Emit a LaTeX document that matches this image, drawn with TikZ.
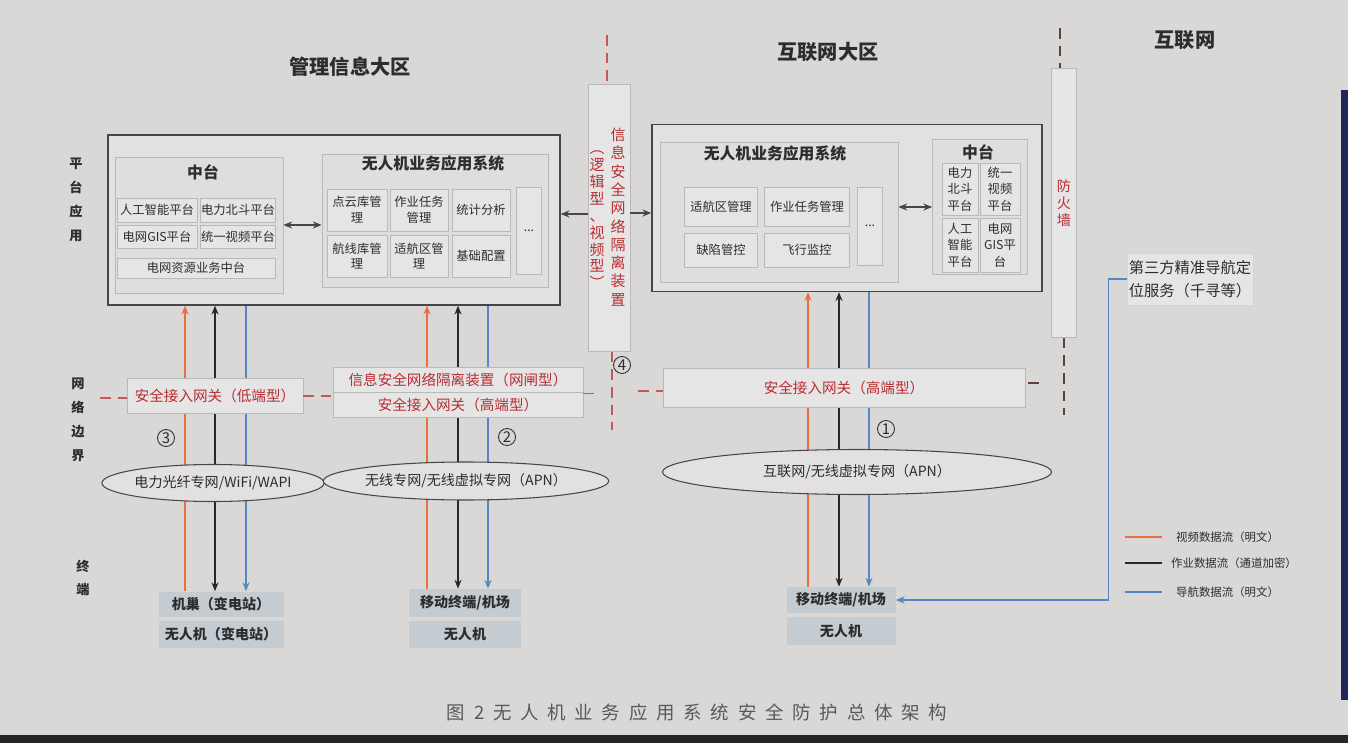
\documentclass[tikz,border=0pt]{standalone}
\usepackage{fontspec}
\setmainfont{Noto Sans CJK SC}
\usetikzlibrary{shapes.geometric,arrows.meta}

\begin{document}
\begin{tikzpicture}[x=0.02cm, y=-0.02cm, >={Stealth[length=5pt,width=4pt]},
    bigbox/.style 2 args={draw=frame, fill=bigfill, line width=0.8pt, minimum width=#1*\px, minimum height=#2*\px, inner sep=0pt},
    panel/.style 2 args={draw=boxgray, fill=panelfill, line width=0.4pt, minimum width=#1*\px, minimum height=#2*\px, inner sep=0pt},
    item/.style 2 args={draw=boxgray, fill=itemfill, line width=0.4pt, minimum width=#1*\px, minimum height=#2*\px, inner sep=0pt, align=center, text=txt, font=\fontsize{7}{9}\selectfont},
    title/.style={text=txt, font=\fontsize{9}{10}\selectfont\bfseries},
    head/.style={text=txt, font=\fontsize{11.5}{12}\selectfont\bfseries},
    side/.style={align=center, text=txt, font=\fontsize{7.5}{13.6}\selectfont\bfseries},
    gw/.style 2 args={draw=boxgray, fill=itemfill, line width=0.4pt, minimum width=#1*\px, minimum height=#2*\px, inner sep=0pt, text=redtxt, font=\fontsize{8.3}{9}\selectfont},
    net/.style 2 args={ellipse, draw=frame, fill=netfill, line width=0.6pt, minimum width=#1*\px, minimum height=#2*\px, inner sep=0pt, text=txt, font=\fontsize{8}{9}\selectfont},
    term/.style 2 args={fill=termfill, minimum width=#1*\px, minimum height=#2*\px, inner sep=0pt, text=txt, font=\fontsize{8}{9}\selectfont\bfseries},
    num/.style={circle, draw=txt, line width=0.5pt, minimum size=17*\px, inner sep=0pt, text=txt, font=\fontsize{8.5}{9}\selectfont},
    oflow/.style={draw=orangeline, line width=0.9pt},
    kflow/.style={draw=blackline, line width=0.9pt},
    bflow/.style={draw=blueline, line width=0.9pt},
    sepred/.style={draw=redtxt!80, line width=0.8pt, dashed, dash pattern=on 6pt off 4pt},
    sepgray/.style={draw=frame!80!redtxt, line width=0.8pt, dash pattern=on 6pt off 4pt},
    legtxt/.style={text=txt, font=\fontsize{6.5}{7}\selectfont}]
    \def\px{0.02cm}
    \definecolor{bgcol}{RGB}{218,215,215}
    \definecolor{bigfill}{RGB}{226,225,225}
    \definecolor{panelfill}{RGB}{223,222,222}
    \definecolor{itemfill}{RGB}{230,229,229}
    \definecolor{netfill}{RGB}{226,224,224}
    \definecolor{termfill}{RGB}{196,204,209}
    \definecolor{boxgray}{RGB}{185,185,185}
    \definecolor{frame}{RGB}{70,70,70}
    \definecolor{txt}{RGB}{45,45,45}
    \definecolor{redtxt}{RGB}{185,45,50}
    \definecolor{orangeline}{RGB}{232,112,60}
    \definecolor{blackline}{RGB}{40,40,40}
    \definecolor{blueline}{RGB}{85,135,195}
    \definecolor{navy}{RGB}{30,38,90}

    % background of the photo
    \useasboundingbox (0,0) rectangle (1348,743);
    \fill[bgcol] (0,0) rectangle (1348,743);
    \fill[navy] (1341,90) rectangle (1348,700);
    \fill[black!85] (0,735) rectangle (1348,743);

    % zone headings
    \node[head] (mgmt) at (350,67) {管理信息大区};
    \node[head] (inetzone) at (828,52) {互联网大区};
    \node[head] (inet) at (1185,40) {互联网};

    % layer labels on the left
    \node[side] (lplat) at (76,200) {平\\台\\应\\用};
    \node[side] (lbound) at (78,420) {网\\络\\边\\界};
    \node[side] (lterm) at (83,578) {终\\端};

    % left platform box
    \node[bigbox={452}{170}] (lbig) at (334,220) {};
    \node[panel={168}{136}] (lmid) at (199,225) {};
    \node[title] (lmidt) at (203,172) {中台};
    \node[item={80}{24}] (lm1) at (157,210) {人工智能平台};
    \node[item={75}{24}] (lm2) at (238,210) {电力北斗平台};
    \node[item={80}{23}] (lm3) at (157,237) {电网GIS平台};
    \node[item={75}{23}] (lm4) at (238,237) {统一视频平台};
    \node[item={158}{20}] (lm5) at (196,268) {电网资源业务中台};
    \node[panel={226}{133}] (lapp) at (435,221) {};
    \node[title] (lappt) at (433,163) {无人机业务应用系统};
    \node[item={60}{42}] (la1) at (357,210) {点云库管\\理};
    \node[item={58}{42}] (la2) at (419,210) {作业任务\\管理};
    \node[item={58}{42}] (la3) at (481,210) {统计分析};
    \node[item={60}{42}] (la4) at (357,256) {航线库管\\理};
    \node[item={58}{42}] (la5) at (419,256) {适航区管\\理};
    \node[item={58}{42}] (la6) at (481,256) {基础配置};
    \node[item={25}{87}] (la7) at (529,231) {...};
    \draw[<->, line width=1pt, frame] (lmid.east) -- (lmid.east -| lapp.west);

    % right platform box
    \node[bigbox={390}{167}] (rbig) at (847,208) {};
    \node[panel={238}{140}] (rapp) at (779,212) {};
    \node[title] (rappt) at (775,153) {无人机业务应用系统};
    \node[item={73}{39}] (ra1) at (721,207) {适航区管理};
    \node[item={85}{39}] (ra2) at (807,207) {作业任务管理};
    \node[item={73}{34}] (ra3) at (721,250) {缺陷管控};
    \node[item={85}{34}] (ra4) at (807,250) {飞行监控};
    \node[item={25}{78}] (ra5) at (870,226) {...};
    \node[panel={95}{135}] (rmid) at (980,207) {};
    \node[title] (rmidt) at (978,152) {中台};
    \node[item={36}{52}, font=\fontsize{7}{9.3}\selectfont] (rm1) at (960,189) {电力\\北斗\\平台};
    \node[item={40}{52}, font=\fontsize{7}{9.3}\selectfont] (rm2) at (1000,189) {统一\\视频\\平台};
    \node[item={36}{54}, font=\fontsize{7}{9.3}\selectfont] (rm3) at (960,245) {人工\\智能\\平台};
    \node[item={40}{54}, font=\fontsize{7}{9.3}\selectfont] (rm4) at (1000,245) {电网\\GIS平\\台};
    \draw[<->, line width=1pt, frame] (rapp.east |- 0,207) -- (rmid.west |- 0,207);

    % isolation device between the zones
    \node[item={42}{267}] (dev) at (609,218) {};
    \node[text=redtxt, align=center, font=\fontsize{8.5}{10.4}\selectfont] (devA) at (618,217) {信\\息\\安\\全\\网\\络\\隔\\离\\装\\置};
    \node[text=redtxt, align=center, font=\fontsize{8.5}{9.6}\selectfont] (devB) at (597,220) {︵\\逻\\辑\\型\\、\\视\\频\\型\\︶};
    \coordinate (devtop) at (607,35);
    \coordinate (devbot) at (612,430);
    \draw[sepred] (devtop) -- (devtop |- dev.north);
    \draw[sepred] (devbot |- dev.south) -- (devbot);
    \draw[->, line width=1pt, frame] (dev.west |- 0,214) -- (lbig.east |- 0,214);
    \draw[->, line width=1pt, frame] (dev.east |- 0,213) -- (rbig.west |- 0,213);
    \node[num] (n4) at (622,365) {4};

    % firewall
    \node[item={25}{269}, text=redtxt, font=\fontsize{8}{9.6}\selectfont] (fw) at (1064,203) {防\\火\\墙};
    \coordinate (fwtop) at (1060,28);
    \coordinate (fwbot) at (1064,415);
    \draw[sepgray] (fwtop) -- (fwtop |- fw.north);
    \draw[sepgray] (fwbot |- fw.south) -- (fwbot);

    % terminals
    \node[term={125}{25}] (lt1) at (221,604) {机巢（变电站）};
    \node[term={125}{27}] (lt2) at (221,634) {无人机（变电站）};
    \node[term={112}{28}] (mt1) at (465,603) {移动终端/机场};
    \node[term={112}{27}] (mt2) at (465,634) {无人机};
    \node[term={109}{26}] (rt1) at (841,600) {移动终端/机场};
    \node[term={109}{28}] (rt2) at (841,631) {无人机};

    % data flows
    \draw[oflow, ->] (lt1.north -| 185,0) -- (lbig.south -| 185,0);
    \draw[kflow, <->] (lt1.north -| 215,0) -- (lbig.south -| 215,0);
    \draw[bflow, <-] (lt1.north -| 246,0) -- (lbig.south -| 246,0);
    \draw[oflow, ->] (mt1.north -| 427,0) -- (lbig.south -| 427,0);
    \draw[kflow, <->] (mt1.north -| 458,0) -- (lbig.south -| 458,0);
    \draw[bflow, <-] (mt1.north -| 488,0) -- (lbig.south -| 488,0);
    \draw[oflow, ->] (rt1.north -| 808,0) -- (rbig.south -| 808,0);
    \draw[kflow, <->] (rt1.north -| 839,0) -- (rbig.south -| 839,0);
    \draw[bflow, <-] (rt1.north -| 869,0) -- (rbig.south -| 869,0);

    % network boundary gateways
    \node[gw={176}{35}] (lgw) at (215,396) {安全接入网关（低端型）};
    \node[gw={250}{26}] (mgw1) at (458,380) {信息安全网络隔离装置（网闸型）};
    \node[gw={250}{25}] (mgw2) at (458,405) {安全接入网关（高端型）};
    \node[gw={362}{39}] (rgw) at (844,388) {安全接入网关（高端型）};
    \coordinate (gl) at (100,398);
    \coordinate (gr) at (638,391);
    \draw[sepred] (gl) -- (gl -| lgw.west);
    \draw[sepred] (lgw.east) -- (lgw.east -| mgw1.west);
    \draw[sepred] (mgw1.south east) -- ++(12,0);
    \draw[sepred] (gr) -- (gr -| rgw.west);
    \draw[sepgray] (rgw.east) ++(3,-5) -- ++(12,0);

    % channel numbers
    \node[num] (n3) at (166,438) {3};
    \node[num] (n2) at (507,437) {2};
    \node[num] (n1) at (886,429) {1};

    % access networks
    \node[net={221}{37}] (lnet) at (213,483) {电力光纤专网/WiFi/WAPI};
    \node[net={248}{38}] (mnet) at (466,481) {无线专网/无线虚拟专网（APN）};
    \node[net={389}{45}] (rnet) at (857,472) {互联网/无线虚拟专网（APN）};

    % third party positioning service
    \node[draw=boxgray!60, fill=itemfill, minimum width=126*\px, minimum height=52*\px, inner sep=1pt, align=left, text=txt, font=\fontsize{8.7}{13}\selectfont] (tp) at (1190,279) {第三方精准导航定\\位服务（千寻等）};
    \draw[bflow, ->] (tp.west) -- ++(-18,0) |- (rt1.east);

    % legend
    \node[legtxt, anchor=west] (lg1) at (1170,537) {视频数据流（明文）};
    \node[legtxt, anchor=west] (lg2) at (1165,563) {作业数据流（通道加密）};
    \node[legtxt, anchor=west] (lg3) at (1170,592) {导航数据流（明文）};
    \draw[oflow] (lg1.west) ++(-45,0) -- ++(37,0);
    \draw[kflow] (lg2.west) ++(-40,0) -- ++(37,0);
    \draw[bflow] (lg3.west) ++(-45,0) -- ++(37,0);

    % caption
    \def\g{\hspace{5pt}}
    \node[text=black!65, font=\fontsize{10.5}{11}\selectfont] (cap) at (697,712) {图\g 2\g 无\g 人\g 机\g 业\g 务\g 应\g 用\g 系\g 统\g 安\g 全\g 防\g 护\g 总\g 体\g 架\g 构};
\end{tikzpicture}
\end{document}
